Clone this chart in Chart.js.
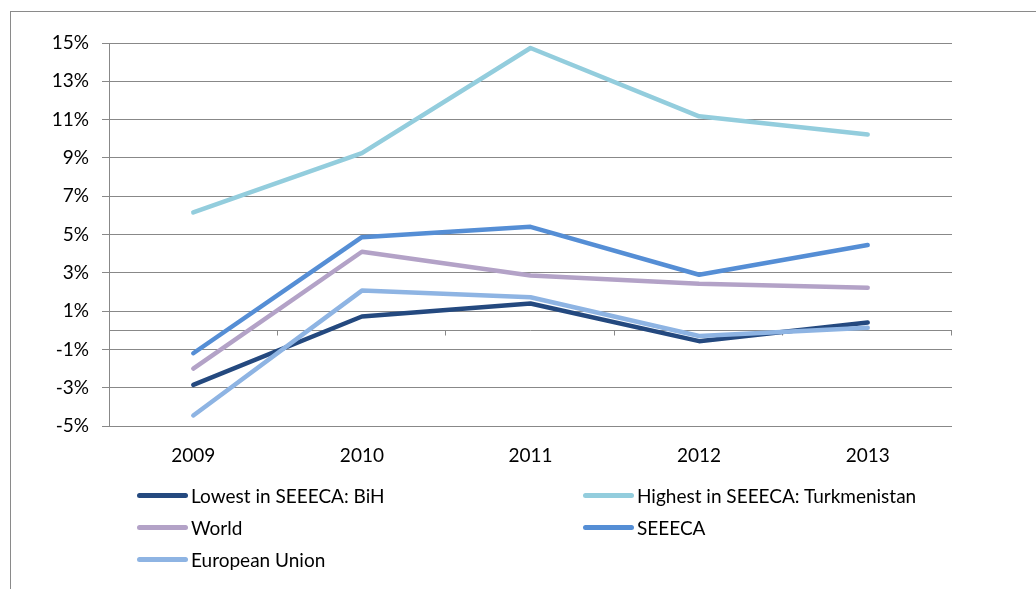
<!DOCTYPE html>
<html>
<head>
<meta charset="utf-8">
<script src="https://cdn.jsdelivr.net/npm/chart.js@4/dist/chart.umd.min.js"></script>
<style>
  html, body { margin: 0; padding: 0; background: #fff; }
  #wrap { position: relative; width: 1036px; height: 589px; overflow: hidden; }
  #frame { position: absolute; left: 10px; top: 11px; width: 1040px; height: 600px;
           border-left: 1px solid #8a8a8a; border-top: 1px solid #8a8a8a; box-sizing: border-box; }
  canvas { position: absolute; left: 0; top: 0; }
  .lg { position: absolute; display: flex; align-items: center; height: 24px;
        font-family: Lato, "Liberation Sans", sans-serif; font-size: 19px; color: #000; white-space: nowrap; }
  .lg .sw { width: 51px; height: 5px; border-radius: 3px; margin-right: 3px; }
</style>
</head>
<body>
<div id="wrap">
  <div id="frame"></div>
  <canvas id="c" width="1036" height="589"></canvas>
  <div id="legend"></div>
</div>
<script>
const categories = ['2009', '2010', '2011', '2012', '2013'];
const seriesNames = ['Lowest in SEEECA: BiH', 'Highest in SEEECA: Turkmenistan', 'World', 'SEEECA', 'European Union'];
const bihValues = [-2.85, 0.72, 1.4, -0.57, 0.4];
const turkmenistanValues = [6.15, 9.25, 14.74, 11.17, 10.22];
const worldValues = [-2.0, 4.1, 2.86, 2.43, 2.22];
const seeecaValues = [-1.2, 4.86, 5.4, 2.9, 4.45];
const euValues = [-4.45, 2.07, 1.72, -0.3, 0.13];
const yMin = -5, yMax = 15, yStep = 2;

const colors = ['#24497f', '#93cddd', '#b3a2c7', '#558ed5', '#8eb4e3'];
const values = [bihValues, turkmenistanValues, worldValues, seeecaValues, euValues];

const gridColor = '#888888';
const FONT = 'Lato, "Liberation Sans", sans-serif';

const zeroLinePlugin = {
  id: 'zeroLine',
  beforeDatasetsDraw(chart) {
    const { ctx, chartArea, scales: { x, y } } = chart;
    const y0 = Math.round(y.getPixelForValue(0)) + 0.5;
    ctx.save();
    ctx.strokeStyle = gridColor;
    ctx.lineWidth = 1;
    ctx.beginPath();
    ctx.moveTo(chartArea.left, y0);
    ctx.lineTo(chartArea.right, y0);
    const n = categories.length;
    for (let i = 1; i <= n; i++) {
      let bx = i < n ? (x.getPixelForValue(i - 1) + x.getPixelForValue(i)) / 2 : chartArea.right;
      bx = Math.round(bx) - 0.5;
      ctx.moveTo(bx, y0);
      ctx.lineTo(bx, y0 + 5);
    }
    ctx.stroke();
    ctx.restore();
  }
};

const datasets = seriesNames.map((name, i) => ({
  label: name,
  data: values[i],
  borderColor: colors[i],
  backgroundColor: colors[i],
  borderWidth: 4.5,
  borderCapStyle: 'round',
  borderJoinStyle: 'round',
  pointRadius: 0,
  pointHoverRadius: 0,
  tension: 0,
  fill: false,
  order: seriesNames.length - i
}));

const chart = new Chart(document.getElementById('c'), {
  type: 'line',
  data: { labels: categories, datasets },
  options: {
    responsive: false,
    animation: false,
    layout: { padding: { left: 0, top: 43, right: 84, bottom: 0 } },
    plugins: { legend: { display: false }, tooltip: { enabled: false } },
    scales: {
      x: {
        type: 'category',
        offset: true,
        grid: { display: false, drawTicks: false },
        border: { display: false },
        ticks: { color: '#000', font: { family: FONT, size: 19 }, padding: 18, maxRotation: 0 },
        afterFit(scale) { scale.height = 163; }
      },
      y: {
        min: yMin,
        max: yMax,
        ticks: {
          stepSize: yStep,
          color: '#000',
          font: { family: FONT, size: 19 },
          padding: 13,
          callback: v => v + '%'
        },
        grid: { color: gridColor, lineWidth: 1, tickLength: 7, drawTicks: true },
        border: { display: true, color: gridColor, width: 1 },
        afterFit(scale) { scale.width = 109; }
      }
    }
  },
  plugins: [zeroLinePlugin]
});

// Legend built from the chart datasets, laid out in two columns
const legendEl = document.getElementById('legend');
const colX = [137, 583];
chart.data.datasets.forEach((ds, i) => {
  const col = i % 2, row = Math.floor(i / 2);
  const item = document.createElement('div');
  item.className = 'lg';
  item.style.left = colX[col] + 'px';
  item.style.top = (495 - 12 + row * 32) + 'px';
  const sw = document.createElement('span');
  sw.className = 'sw';
  sw.style.background = ds.borderColor;
  const tx = document.createElement('span');
  tx.textContent = ds.label;
  item.appendChild(sw);
  item.appendChild(tx);
  legendEl.appendChild(item);
});
</script>
</body>
</html>
